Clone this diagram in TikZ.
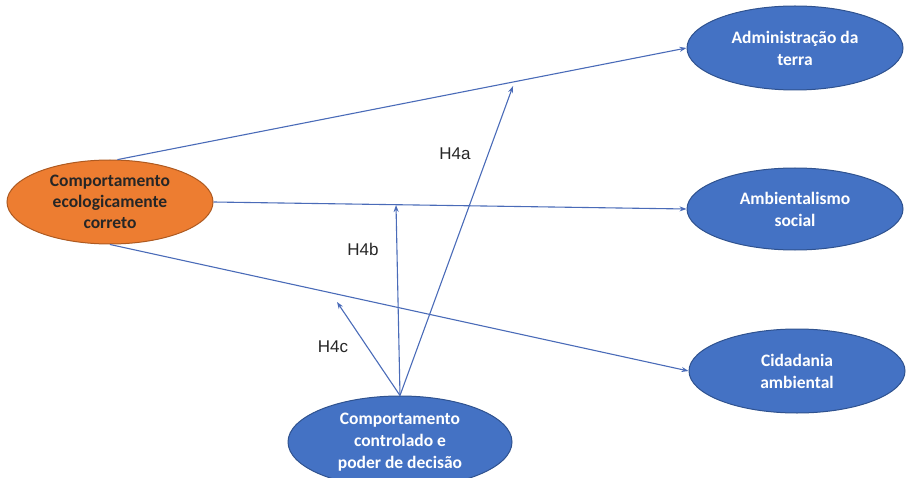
\documentclass[tikz,border=0pt]{standalone}
\usepackage{fontspec}
\setmainfont{Carlito}
\newfontfamily\hypfont{Liberation Sans}
\usepackage{xcolor}
\usepackage{tikz}
\usetikzlibrary{positioning,shapes.geometric,arrows.meta}
\definecolor{NodeBlue}{HTML}{4472C4}
\definecolor{EdgeBlue}{HTML}{2F528F}
\definecolor{NodeOrange}{HTML}{ED7D31}
\definecolor{EdgeOrange}{HTML}{AE5A21}
\definecolor{LinkBlue}{HTML}{4A6BB8}
\definecolor{LabelGray}{HTML}{262626}
\tikzset{
  bluenode/.style={
    ellipse,draw=EdgeBlue,fill=NodeBlue,line width=1pt,
    minimum width=216pt,minimum height=84pt,inner sep=0pt,
    font=\fontsize{17.5}{22}\selectfont\bfseries\color{white},
    align=center
  },
  orangenode/.style={
    ellipse,draw=EdgeOrange,fill=NodeOrange,line width=1pt,
    minimum width=206pt,minimum height=84pt,inner sep=0pt,
    font=\fontsize{17.5}{21}\selectfont\bfseries\color{LabelGray},
    align=center
  },
  linkline/.style={
    draw=LinkBlue,line width=1.1pt,-{Stealth[length=7pt,width=5pt]}
  },
  hyplabel/.style={
    font=\hypfont\fontsize{17}{20}\selectfont,text=LabelGray
  },
}

\begin{document}
\begin{tikzpicture}[x=1pt,y=-1pt]
  \useasboundingbox (0,0) rectangle (917,478);
  \node[orangenode] (cec) at (110,202) {Comportamento\\ecologicamente\\correto};
  \node[bluenode] (adm) at (795,48) {Administração da\\terra};
  \node[bluenode,minimum height=82pt] (amb) at (795,209) {Ambientalismo\\social};
  \node[bluenode] (cid) at (797,371) {Cidadania\\ambiental};
  \node[bluenode,minimum width=224pt,minimum height=92pt] (ccd) at (400,442) {Comportamento\\controlado e\\poder de decisão};
  \coordinate (h4a) at (513,86);
  \coordinate (h4b) at (396,205);
  \coordinate (h4c) at (337,302);
  \draw[linkline] (cec.80) -- (adm.west);
  \draw[linkline] (cec.east) -- (amb.west);
  \draw[linkline] (cec.south) -- (cid.west);
  \draw[linkline] (ccd.north) -- (h4a);
  \draw[linkline] (ccd.north) -- (h4b);
  \draw[linkline] (ccd.north) -- (h4c);
  \node[hyplabel] (la) at (455,154) {H4a};
  \node[hyplabel] (lb) at (363,249) {H4b};
  \node[hyplabel] (lc) at (333,347) {H4c};
\end{tikzpicture}
\end{document}
